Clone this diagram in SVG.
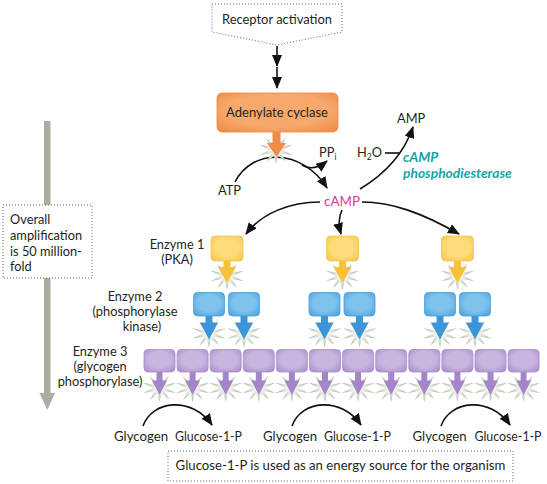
<svg xmlns="http://www.w3.org/2000/svg" width="547" height="484" viewBox="0 0 547 484">
<style>
text{font-family:Lato,"Liberation Sans",sans-serif;font-size:12.8px;fill:#231f20}
.mid{text-anchor:middle}
.rec{font-size:12.8px}
.prod{font-size:13px}
.dot{fill:#fff;stroke:#666;stroke-width:1;stroke-dasharray:1 2}
.ln{fill:none;stroke:#111;stroke-width:1.6;marker-end:url(#ah)}
.sub{font-size:8.5px}
.pde{fill:#1aa3a3;font-weight:bold;font-style:italic;font-size:13.8px}
</style>
<defs>
<marker id="ah" viewBox="0 0 12 10" markerWidth="12" markerHeight="10" refX="11" refY="5" orient="auto" markerUnits="userSpaceOnUse"><path d="M0,0 L12,5 L0,10 Z" fill="#111"/></marker>
<radialGradient id="sg"><stop offset="0" stop-color="#fff"/><stop offset="0.3" stop-color="#eef1ea"/><stop offset="1" stop-color="#a9b69f"/></radialGradient>
<radialGradient id="og" cx="0.5" cy="0.45" r="0.7"><stop offset="0.6" stop-color="#f7a86c"/><stop offset="1" stop-color="#ef8b47"/></radialGradient>
<radialGradient id="yg" cx="0.5" cy="0.45" r="0.7"><stop offset="0.5" stop-color="#fedc7c"/><stop offset="1" stop-color="#f8c64a"/></radialGradient>
<radialGradient id="bg" cx="0.5" cy="0.45" r="0.7"><stop offset="0.5" stop-color="#7ec3ee"/><stop offset="1" stop-color="#4aa0dc"/></radialGradient>
<radialGradient id="pg" cx="0.5" cy="0.45" r="0.7"><stop offset="0.5" stop-color="#c9b5e0"/><stop offset="1" stop-color="#a88ccb"/></radialGradient>
<polygon id="star" fill="url(#sg)" points="0,-14 2,-5.5 9.5,-12 5,-3.3 16.5,-5.2 6.5,0 16.5,5 5,3.3 10,11.5 2,5.5 0,14 -2,5.5 -9.5,12 -5,3.3 -16.5,5 -6.5,0 -16.5,-5.2 -5,-3.3 -10,-11.5 -2,-5.5"/>
<g id="yel">
<use href="#star" x="0" y="40"/>
<rect x="-3.5" y="22" width="7" height="11" fill="#f8c136"/>
<polygon points="-9,31 9,31 0,47" fill="#f8c136"/>
<rect x="-16" y="0" width="32" height="25" rx="4" fill="url(#yg)" stroke="#f5c24c" stroke-width="0.8"/>
</g>
<g id="blu">
<use href="#star" x="0" y="41"/>
<rect x="-3.5" y="21" width="7" height="11" fill="#3b95d6"/>
<polygon points="-9,30 9,30 0,47" fill="#3b95d6"/>
<rect x="-15.5" y="0" width="31" height="23.5" rx="4" fill="url(#bg)" stroke="#4a9ed8" stroke-width="0.8"/>
</g>
<g id="pur">
<use href="#star" x="0" y="38.5"/>
<rect x="-3" y="20" width="6" height="12" fill="#a286c9"/>
<polygon points="-7.5,31 7.5,31 0,45.5" fill="#a286c9"/>
<rect x="-15.5" y="0" width="31" height="22.5" rx="4" fill="url(#pg)" stroke="#a88ccb" stroke-width="0.8"/>
</g>
</defs>
<rect width="547" height="484" fill="#fff"/>

<g id="amplification-arrow">
<rect x="44" y="121" width="6.5" height="274" fill="#a7af9e"/>
<polygon points="39.5,393 55,393 47.25,410" fill="#a7af9e"/>
</g>

<g id="connectors">
<line class="ln" x1="277" y1="46" x2="277" y2="66"/>
<line class="ln" x1="277" y1="67" x2="277" y2="88"/>
<path class="ln" d="M235,182 C252,148 302,148 327,188"/>
<path class="ln" d="M302,165 Q313,172 327,161"/>
<path class="ln" d="M360,189 Q400,165 413,127"/>
<path d="M385,153 L399,153" fill="none" stroke="#111" stroke-width="1.6"/>
<path class="ln" d="M320,202 C290,202 262,213 246,234"/>
<path class="ln" d="M342,210 Q337,220 341,234"/>
<path class="ln" d="M362,202 C392,202 422,213 459,234"/>
<path class="ln" d="M143,426 C152,400 192,396 212,425"/>
<path class="ln" d="M292,426 C301,400 341,396 361,425"/>
<path class="ln" d="M441,426 C450,400 490,396 510,425"/>
</g>

<g id="receptor">
<path class="dot" d="M212,4 H342 V32 L277,45 L212,32 Z"/>
<text class="mid rec" x="277" y="24" textLength="110" lengthAdjust="spacingAndGlyphs">Receptor activation</text>
</g>

<g id="adenylate-cyclase">
<use href="#star" x="276" y="150"/>
<rect x="272.5" y="130" width="8" height="14" fill="#f08c48"/>
<polygon points="267,143 286,143 276.5,157" fill="#f08c48"/>
<rect x="217" y="93" width="121" height="39" rx="5" fill="url(#og)" stroke="#ee8a45" stroke-width="0.8"/>
<text class="mid" x="277" y="117" style="font-size:13px">Adenylate cyclase</text>
</g>

<g id="labels">
<text x="319" y="157">PP<tspan class="sub" dy="3">i</tspan></text>
<text x="357" y="157">H<tspan class="sub" dy="3">2</tspan><tspan dy="-3">O</tspan></text>
<text x="397" y="123">AMP</text>
<text class="pde" x="403" y="162">cAMP</text>
<text class="pde" x="403" y="178">phosphodiesterase</text>
<text x="218" y="195">ATP</text>
<text class="mid" x="342" y="206" style="fill:#d63c9a;font-size:13.4px">cAMP</text>
</g>

<g id="amplification-box">
<rect class="dot" x="3" y="205" width="89" height="73"/>
<text x="10" y="224">Overall</text>
<text x="10" y="240">amplification</text>
<text x="10" y="256">is 50 million-</text>
<text x="10" y="271">fold</text>
</g>

<g id="enzyme-labels">
<text class="mid" x="177" y="249">Enzyme 1</text>
<text class="mid" x="177" y="264">(PKA)</text>
<text class="mid" x="135" y="301">Enzyme 2</text>
<text class="mid" x="135" y="316">(phosphorylase</text>
<text class="mid" x="142" y="331">kinase)</text>
<text class="mid" x="100" y="356">Enzyme 3</text>
<text class="mid" x="100" y="371">(glycogen</text>
<text class="mid" x="100" y="386">phosphorylase)</text>
</g>

<g id="enzyme1">
<use href="#yel" x="227" y="236"/>
<use href="#yel" x="342.5" y="236"/>
<use href="#yel" x="457.5" y="236"/>
</g>
<g id="enzyme2">
<use href="#blu" x="209" y="292.5"/>
<use href="#blu" x="244" y="292.5"/>
<use href="#blu" x="324.5" y="292.5"/>
<use href="#blu" x="359.5" y="292.5"/>
<use href="#blu" x="440" y="292.5"/>
<use href="#blu" x="475" y="292.5"/>
</g>
<g id="enzyme3">
<use href="#pur" x="159.5" y="349.5"/>
<use href="#pur" x="192.6" y="349.5"/>
<use href="#pur" x="225.7" y="349.5"/>
<use href="#pur" x="258.8" y="349.5"/>
<use href="#pur" x="291.9" y="349.5"/>
<use href="#pur" x="325" y="349.5"/>
<use href="#pur" x="358.1" y="349.5"/>
<use href="#pur" x="391.2" y="349.5"/>
<use href="#pur" x="424.3" y="349.5"/>
<use href="#pur" x="457.4" y="349.5"/>
<use href="#pur" x="490.5" y="349.5"/>
<use href="#pur" x="523.6" y="349.5"/>
</g>

<g id="products">
<text class="prod" x="114" y="441" textLength="54" lengthAdjust="spacingAndGlyphs">Glycogen</text>
<text class="prod" x="175" y="441" textLength="67" lengthAdjust="spacingAndGlyphs">Glucose-1-P</text>
<text class="prod" x="263" y="441" textLength="54" lengthAdjust="spacingAndGlyphs">Glycogen</text>
<text class="prod" x="324" y="441" textLength="67" lengthAdjust="spacingAndGlyphs">Glucose-1-P</text>
<text class="prod" x="412.5" y="441" textLength="54" lengthAdjust="spacingAndGlyphs">Glycogen</text>
<text class="prod" x="474.5" y="441" textLength="67" lengthAdjust="spacingAndGlyphs">Glucose-1-P</text>
</g>

<g id="energy-box">
<rect class="dot" x="168" y="451" width="345" height="30"/>
<text class="mid" x="340.5" y="470" style="font-size:13.2px">Glucose-1-P is used as an energy source for the organism</text>
</g>
</svg>
